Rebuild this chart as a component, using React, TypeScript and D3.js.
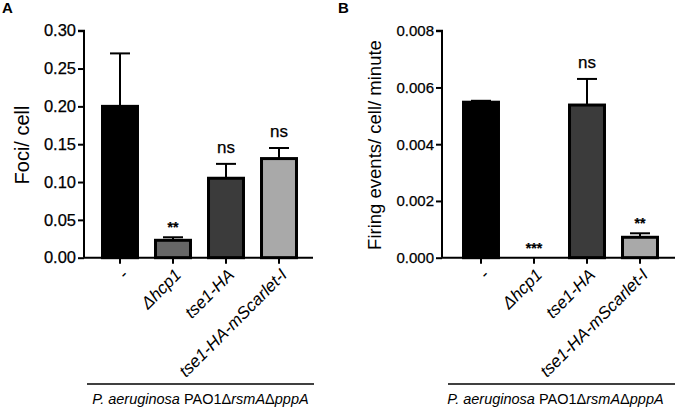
import React, { useEffect, useRef } from 'react'
import * as d3 from 'd3'

const categories = ['-', 'Δhcp1', 'tse1-HA', 'tse1-HA-mScarlet-I']
const italicCats = [false, true, true, true]
const fills = ['#000000', '#666666', '#3b3b3b', '#a9a9a9']

const fociMean = [0.2, 0.023, 0.105, 0.131]
const fociErr = [0.07, 0.004, 0.019, 0.014]
const fociSig = ['', '**', 'ns', 'ns']
const fociTicks = [0, 0.05, 0.1, 0.15, 0.2, 0.25, 0.3]

const firingMean = [0.00548, 0, 0.00538, 0.00072]
const firingErr = [0.00005, 0, 0.00092, 0.00014]
const firingSig = ['', '***', 'ns', '**']
const firingTicks = [0, 0.002, 0.004, 0.006, 0.008]

const FONT = "'Liberation Sans', Arial, sans-serif"

const drawPanel = (
  g: any,
  {
    letter,
    letterX,
    axisX,
    axisEnd,
    bandStart,
    max,
    ticks,
    fmt,
    tickSize,
    title,
    titleX,
    titleSize,
    means,
    errs,
    sig,
    lineStart,
    lineEnd,
  }: any
) => {
  const top = 30.7
  const bottom = 257.7
  const y = d3.scaleLinear().domain([0, max]).range([bottom, top])
  const x = d3
    .scaleBand()
    .domain(categories)
    .range([bandStart, bandStart + 53 * 4])
    .paddingInner(0.34)
    .paddingOuter(0.17)

  g.append('text')
    .attr('x', letterX)
    .attr('y', 13)
    .attr('font-family', FONT)
    .attr('font-weight', 'bold')
    .attr('font-size', 15)
    .text(letter)

  // bars
  g.append('g')
    .selectAll('rect')
    .data(means)
    .join('rect')
    .attr('x', (d: any, i: number) => x(categories[i]))
    .attr('y', (d: any) => y(d))
    .attr('width', x.bandwidth())
    .attr('height', (d: any) => bottom - y(d))
    .attr('fill', (d: any, i: number) => fills[i])
    .attr('stroke', '#000')
    .attr('stroke-width', (d: any) => (d > 0 ? 3 : 0))

  // error bars
  const eb = g.append('g').attr('stroke', '#000').attr('stroke-width', 2)
  means.forEach((m: number, i: number) => {
    if (errs[i] <= 0) return
    const cx = (x(categories[i]) as number) + x.bandwidth() / 2
    eb.append('line')
      .attr('x1', cx)
      .attr('x2', cx)
      .attr('y1', y(m))
      .attr('y2', y(m + errs[i]))
    eb.append('line')
      .attr('x1', cx - 10)
      .attr('x2', cx + 10)
      .attr('y1', y(m + errs[i]))
      .attr('y2', y(m + errs[i]))
  })

  // significance
  g.append('g')
    .attr('font-family', FONT)
    .attr('text-anchor', 'middle')
    .selectAll('text')
    .data(sig)
    .join('text')
    .attr('x', (d: any, i: number) => (x(categories[i]) as number) + x.bandwidth() / 2)
    .attr('y', (d: any, i: number) => y(means[i] + errs[i]) - 11)
    .attr('dy', (d: any) => (d === 'ns' ? 0 : 6))
    .attr('font-size', (d: any) => (d === 'ns' ? 17 : 14))
    .attr('font-weight', (d: any) => (d === 'ns' ? 'normal' : 'bold'))
    .attr('stroke', '#000')
    .attr('stroke-width', 0.25)
    .text((d: any) => d)

  // y axis
  const yAxis = g
    .append('g')
    .attr('transform', `translate(${axisX},0)`)
    .call(d3.axisLeft(y).tickValues(ticks).tickFormat(fmt).tickSize(6).tickPadding(2))
  yAxis.select('.domain').attr('stroke-width', 2).attr('d', `M-6,${top}H0V${bottom}`)
  yAxis.selectAll('.tick line').attr('stroke-width', 2)
  yAxis
    .selectAll('.tick text')
    .attr('font-family', FONT)
    .attr('font-size', tickSize)
    .attr('fill', '#000')
    .attr('stroke', '#000')
    .attr('stroke-width', 0.25)

  // x axis
  const xAxis = g.append('g').attr('transform', `translate(0,${bottom})`)
  xAxis
    .append('line')
    .attr('x1', axisX)
    .attr('x2', axisEnd)
    .attr('stroke', '#000')
    .attr('stroke-width', 2)
  xAxis
    .selectAll('line.tk')
    .data(categories)
    .join('line')
    .attr('class', 'tk')
    .attr('x1', (d: any) => (x(d) as number) + x.bandwidth() / 2)
    .attr('x2', (d: any) => (x(d) as number) + x.bandwidth() / 2)
    .attr('y1', 0)
    .attr('y2', 6)
    .attr('stroke', '#000')
    .attr('stroke-width', 2)
  xAxis
    .selectAll('text')
    .data(categories)
    .join('text')
    .attr('transform', (d: any) => `translate(${(x(d) as number) + x.bandwidth() / 2 + 5},${14}) rotate(-45)`)
    .attr('text-anchor', 'end')
    .attr('dy', '0.35em')
    .attr('font-family', FONT)
    .attr('font-size', 17)
    .attr('font-style', (d: any, i: number) => (italicCats[i] ? 'italic' : 'normal'))
    .text((d: any) => d)

  // y title
  g.append('text')
    .attr('transform', `translate(${titleX},${145}) rotate(-90)`)
    .attr('text-anchor', 'middle')
    .attr('font-family', FONT)
    .attr('font-size', titleSize)
    .text(title)

  // strain bracket
  g.append('line')
    .attr('x1', lineStart)
    .attr('x2', lineEnd)
    .attr('y1', 384)
    .attr('y2', 384)
    .attr('stroke', '#000')
    .attr('stroke-width', 1.3)
  const lbl = g
    .append('text')
    .attr('x', (lineStart + lineEnd) / 2 - (lineEnd > 670 ? 6 : 0))
    .attr('y', 404)
    .attr('text-anchor', 'middle')
    .attr('font-family', FONT)
    .attr('font-size', 14.5)
  lbl.append('tspan').attr('font-style', 'italic').text('P. aeruginosa')
  lbl.append('tspan').text(' PAO1Δ')
  lbl.append('tspan').attr('font-style', 'italic').text('rsmA')
  lbl.append('tspan').text('Δ')
  lbl.append('tspan').attr('font-style', 'italic').text('pppA')
}

const App = () => {
  const ref = useRef<SVGSVGElement>(null)
  useEffect(() => {
    const svg = d3.select(ref.current)
    svg.selectAll('*').remove()
    drawPanel(svg.append('g'), {
      letter: 'A',
      letterX: 2,
      axisX: 84,
      axisEnd: 313,
      bandStart: 93.5,
      max: 0.3,
      ticks: fociTicks,
      fmt: d3.format('.2f'),
      tickSize: 16.5,
      title: 'Foci/ cell',
      titleX: 29,
      titleSize: 20,
      means: fociMean,
      errs: fociErr,
      sig: fociSig,
      lineStart: 87,
      lineEnd: 314,
    })
    drawPanel(svg.append('g'), {
      letter: 'B',
      letterX: 338,
      axisX: 442,
      axisEnd: 675,
      bandStart: 454.5,
      max: 0.008,
      ticks: firingTicks,
      fmt: d3.format('.3f'),
      tickSize: 15,
      title: 'Firing events/ cell/ minute',
      titleX: 381,
      titleSize: 18.5,
      means: firingMean,
      errs: firingErr,
      sig: firingSig,
      lineStart: 448,
      lineEnd: 675,
    })
  }, [])
  return (
    <div style={{ position: 'absolute', left: 0, top: 0 }}>
      <svg ref={ref} width={675} height={410} style={{ display: 'block', background: '#fff' }} />
    </div>
  )
}

export default App
